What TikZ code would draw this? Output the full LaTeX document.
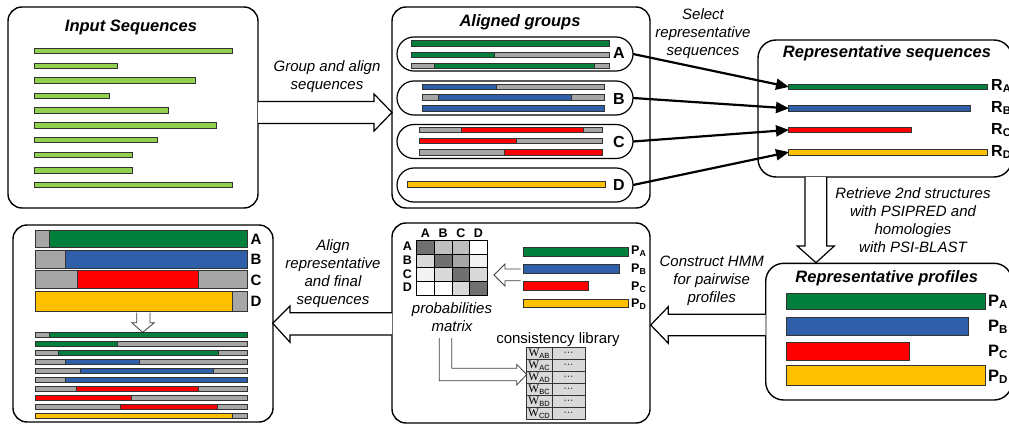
\documentclass[tikz,border=0pt]{standalone}
\usepackage{fontspec}
\setmainfont{Liberation Sans}
\newfontfamily\wfont{Liberation Serif}
\usetikzlibrary{arrows.meta}

\definecolor{lgreen}{RGB}{146,208,80}
\definecolor{dgreen}{RGB}{0,128,60}
\definecolor{sblue}{RGB}{46,95,168}
\definecolor{sred}{RGB}{255,0,0}
\definecolor{sgold}{RGB}{255,192,0}
\definecolor{sgray}{RGB}{166,166,166}
\definecolor{cellA}{RGB}{112,112,112}
\definecolor{cellB}{RGB}{166,166,166}
\definecolor{cellC}{RGB}{191,191,191}
\definecolor{cellD}{RGB}{217,217,217}
\definecolor{cellE}{RGB}{242,242,242}

% one aligned sequence made of coloured segments: y centre, half height, list x1/x2/colour
\newcommand\seqrow[3]{%
  \foreach \xa/\xb/\cc in {#3}{\filldraw[seqbar, fill=\cc] (\xa,#1-#2) rectangle (\xb,#1+#2);}}

\tikzset{
  panel/.style={draw=black, line width=1.4pt, rounded corners=14pt},
  pill/.style={draw=black, line width=1.2pt, rounded corners=17pt, minimum height=34pt,
               inner sep=0pt, outer sep=0pt},
  seqbar/.style={draw=black!80, line width=0.6pt},
  hollow/.style={draw=black, line width=1.2pt, fill=white, line join=miter},
  thinhollow/.style={draw=black!75, line width=0.8pt, line join=miter},
  note/.style={font=\fontsize{15}{18}\selectfont\itshape, align=center, inner sep=0pt},
  title/.style={font=\fontsize{16.5}{19}\selectfont\bfseries\itshape, inner sep=0pt},
  glab/.style={font=\fontsize{16}{18}\selectfont\bfseries, inner sep=0pt},
  rlab/.style={font=\fontsize{16}{18}\selectfont\bfseries, inner sep=0pt, anchor=west},
  mlab/.style={font=\fontsize{12.5}{13}\selectfont\bfseries, inner sep=0pt},
  sel/.style={draw=black, line width=2.2pt, -{Triangle[length=13pt,width=11pt]}, shorten >=-1pt},
}

\begin{document}
\begin{tikzpicture}[x=1pt,y=-1pt]
\clip (0,0) rectangle (1009,425);
\fill[white] (0,0) rectangle (1009,425);

% ---------- input sequences ----------
\draw[panel] (8,7) rectangle (258,208);
\node[title] (tin) at (131,27) {Input Sequences};
\foreach \yy/\xr in {50.7/232, 65.7/117, 80.3/195, 95.7/109, 110.3/168,
                     125.3/216, 140/157, 155/132, 170.3/132, 185/232}
  {\filldraw[seqbar, fill=lgreen] (34,\yy-2.7) rectangle (\xr,\yy+2.7);}

% group and align
\draw[hollow] (258,101.5) -- (374,101.5) -- (374,94) -- (392,112.5) -- (374,131) -- (374,123.5) -- (258,123.5);
\node[note] (tgroup) at (327,76.5) {Group and align\\sequences};

% ---------- aligned groups ----------
\draw[panel] (392,7) rectangle (650,208);
\node[title] (tal) at (520,22) {Aligned groups};
\node[pill, minimum width=236pt] (pA) at (515,54) {};
\node[pill, minimum width=236pt] (pB) at (515,98) {};
\node[pill, minimum width=236pt] (pC) at (515,141.5) {};
\node[pill, minimum width=236pt] (pD) at (515,185) {};
\node[glab] (lA) at (619,53) {A};
\node[glab] (lB) at (619,99) {B};
\node[glab] (lC) at (619,142) {C};
\node[glab] (lD) at (619,184.5) {D};

\seqrow{43.3}{2.8}{411/609/dgreen}
\seqrow{55}{2.8}{411/494/dgreen, 494/609/sgray}
\seqrow{65.7}{2.8}{411/434/sgray, 434/594/dgreen, 594/609/sgray}
\seqrow{87}{2.8}{422/496/sblue, 496/604/sgray}
\seqrow{97.3}{2.8}{422/438/sgray, 438/571/sblue, 571/604/sgray}
\seqrow{108.3}{2.8}{422/604/sblue}
\seqrow{130}{2.8}{419/461/sgray, 461/583/sred, 583/602/sgray}
\seqrow{140.7}{2.8}{419/516/sred, 516/602/sgray}
\seqrow{152}{2.8}{419/504/sgray, 504/602/sred}
\seqrow{184.3}{2.8}{407/605/sgold}

% ---------- representative sequences ----------
\draw[panel, rounded corners=18pt] (758,40) rectangle (1012,177);
\node[title] (trs) at (887,53) {Representative sequences};
\seqrow{86.7}{2.8}{788/987/dgreen}
\seqrow{108.3}{2.8}{788/970/sblue}
\seqrow{130}{2.8}{788/911/sred}
\seqrow{152.3}{2.8}{788/987/sgold}
\coordinate (rA) at (788,86.7);
\coordinate (rB) at (788,108.3);
\coordinate (rC) at (788,130);
\coordinate (rD) at (788,152.3);
\node[rlab] (RA) at (991,86) {R\textsubscript{A}};
\node[rlab] (RB) at (991,108) {R\textsubscript{B}};
\node[rlab] (RC) at (991,130) {R\textsubscript{C}};
\node[rlab] (RD) at (991,152) {R\textsubscript{D}};

\node[note] (tsel) at (703,34) {Select\\representative\\sequences};
\draw[sel] (pA.east) -- (rA);
\draw[sel] (pB.east) -- (rB);
\draw[sel] (pC.east) -- (rC);
\draw[sel] (pD.east) -- (rD);

% retrieve structures
\draw[hollow] (805,177) -- (805,246) -- (797.3,246) -- (816,262.7) -- (834.3,246) -- (826.7,246) -- (826.7,177);
\node[note] (tret) at (913,220.5) {Retrieve 2nd structures\\with PSIPRED and\\homologies\\with PSI-BLAST};

% ---------- representative profiles ----------
\draw[panel, rounded corners=18pt] (765.7,263.3) rectangle (1012,400);
\node[title] (trp) at (886.7,278.3) {Representative profiles};
\seqrow{301.3}{8}{786.7/985/dgreen}
\seqrow{326}{9}{786.7/968.3/sblue}
\seqrow{351.5}{8.8}{786.7/909/sred}
\seqrow{375.3}{10}{786.7/985/sgold}
\node[rlab, font=\fontsize{16.5}{18}\selectfont\bfseries] (PA) at (988,302) {P\textsubscript{A}};
\node[rlab, font=\fontsize{16.5}{18}\selectfont\bfseries] (PB) at (988,327) {P\textsubscript{B}};
\node[rlab, font=\fontsize{16.5}{18}\selectfont\bfseries] (PC) at (988,352) {P\textsubscript{C}};
\node[rlab, font=\fontsize{16.5}{18}\selectfont\bfseries] (PD) at (988,377) {P\textsubscript{D}};

% construct HMM
\draw[hollow] (765.7,314.3) -- (668.3,314.3) -- (668.3,306.7) -- (650.7,325) -- (668.3,343.3) -- (668.3,335.7) -- (765.7,335.7);
\node[note] (thmm) at (711.7,281) {Construct HMM\\for pairwise\\profiles};

% ---------- pairwise stage ----------
\draw[panel] (392,223) rectangle (650,423);
% probability matrix
\foreach \row/\shades in {0/{cellA,cellC,cellC,white}, 1/{cellD,cellA,cellB,cellE},
                          2/{cellE,cellD,cellA,cellD}, 3/{white,white,cellD,cellA}}{
  \foreach \sh [count=\col from 0] in \shades {
    \filldraw[fill=\sh, draw=black, line width=1pt]
      (416.7+\col*17.65,240.7+\row*13.6) rectangle ++(17.65,13.6);
  }
}
\foreach \ll [count=\i from 0] in {A,B,C,D}{
  \node[mlab] (col\ll) at (425.5+\i*17.65,233.5) {\ll};
  \node[mlab] (row\ll) at (407.5,246.5+\i*13.6) {\ll};
}
\node[note] (tpm) at (452,317.5) {probabilities\\matrix};

\seqrow{251.7}{4.4}{523.3/628/dgreen}
\seqrow{269}{4.4}{523.3/619/sblue}
\seqrow{286}{4.4}{523.3/588/sred}
\seqrow{303.3}{4.4}{523.3/628/sgold}
\node[rlab, font=\fontsize{12.5}{14}\selectfont\bfseries] (pPA) at (631,251.5) {P\textsubscript{A}};
\node[rlab, font=\fontsize{12.5}{14}\selectfont\bfseries] (pPB) at (631,269.5) {P\textsubscript{B}};
\node[rlab, font=\fontsize{12.5}{14}\selectfont\bfseries] (pPC) at (631,287) {P\textsubscript{C}};
\node[rlab, font=\fontsize{12.5}{14}\selectfont\bfseries] (pPD) at (631,304) {P\textsubscript{D}};
\draw[thinhollow] (520.5,269) -- (505,269) -- (505,264) -- (494,275) -- (505,286) -- (505,280.7) -- (520.5,280.7);

% consistency library
\node[font=\fontsize{15}{18}\selectfont, inner sep=0pt] (tcl) at (558,340) {consistency library};
\foreach \pp [count=\i from 0] in {AB,AC,AD,BC,BD,CD}{
  \filldraw[fill=cellD, draw=black!80, line width=0.9pt] (526.7,347.7+\i*11.93) rectangle (552,347.7+\i*11.93+11.93);
  \filldraw[fill=cellD, draw=black!80, line width=0.9pt] (552,347.7+\i*11.93) rectangle (585,347.7+\i*11.93+11.93);
  \node[font=\fontsize{11.5}{12}\selectfont, inner sep=0pt] (w\pp) at (539.3,353.8+\i*11.93)
    {{\wfont W}\textsubscript{\fontsize{7.5}{8}\selectfont \pp}};
  \node[font=\fontsize{10}{10}\selectfont, inner sep=0pt] (d\pp) at (568.5,353.8+\i*11.93) {···};
}
\draw[thinhollow] (439.3,338) -- (439.3,380.7) -- (516.7,380.7) -- (516.7,385) -- (526.7,374.5)
   -- (516.7,364.3) -- (516.7,368.3) -- (451.7,368.3) -- (451.7,338);

% align representative and final sequences
\draw[hollow] (392,312.7) -- (290,312.7) -- (290,306) -- (272.7,323.3) -- (290,342.3) -- (290,335) -- (392,335);
\node[note] (talign) at (333,274) {Align\\representative\\and final\\sequences};

% ---------- final alignment ----------
\draw[panel] (13,225) rectangle (273,422);
\seqrow{239}{8.3}{35/49/sgray, 49/247/dgreen}
\seqrow{259.2}{9.2}{35/65/sgray, 65/247/sblue}
\seqrow{279.7}{9}{35/77/sgray, 77/198/sred, 198/247/sgray}
\seqrow{301}{10}{35/232/sgold, 232/247/sgray}
\node[glab, font=\fontsize{15}{18}\selectfont\bfseries] (fA) at (256,239) {A};
\node[glab, font=\fontsize{15}{18}\selectfont\bfseries] (fB) at (256,259) {B};
\node[glab, font=\fontsize{15}{18}\selectfont\bfseries] (fC) at (256,280) {C};
\node[glab, font=\fontsize{15}{18}\selectfont\bfseries] (fD) at (256,301) {D};
\draw[thinhollow, fill=white] (136.7,312.5) -- (136.7,322.7) -- (131.7,322.7) -- (142.7,332.3) -- (154.3,322.7) -- (150,322.7) -- (150,312.5);

\seqrow{334.7}{2.6}{35/49/sgray, 49/247/dgreen}
\seqrow{343.7}{2.6}{35/117.3/dgreen, 117.3/247/sgray}
\seqrow{352.7}{2.6}{35/58.3/sgray, 58.3/218.3/dgreen, 218.3/247/sgray}
\seqrow{362}{2.6}{35/65.7/sgray, 65.7/139.3/sblue, 139.3/247/sgray}
\seqrow{371}{2.6}{35/80.7/sgray, 80.7/213.7/sblue, 213.7/247/sgray}
\seqrow{380}{2.6}{35/65.7/sgray, 65.7/247/sblue}
\seqrow{389}{2.6}{35/76.7/sgray, 76.7/198.3/sred, 198.3/247/sgray}
\seqrow{398}{2.6}{35/131.7/sred, 131.7/247/sgray}
\seqrow{407}{2.6}{35/120/sgray, 120/217.3/sred, 217.3/247/sgray}
\seqrow{416}{2.6}{35/232.3/sgold, 232.3/247/sgray}
\end{tikzpicture}
\end{document}
